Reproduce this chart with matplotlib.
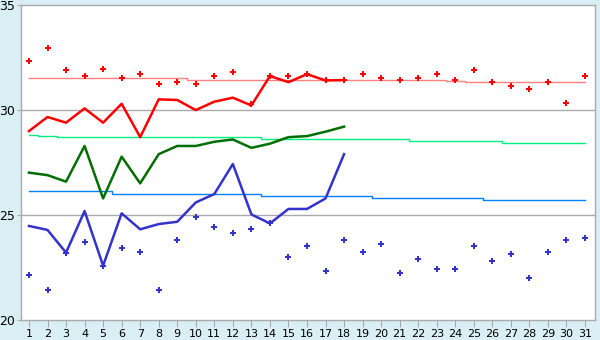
import numpy as np
import matplotlib.pyplot as plt

# ###############################################
days = list(range(1, 32))
days_obs = list(range(1, 19))

max_line = [29.0, 29.67, 29.4, 30.08, 29.4, 30.3, 28.71, 30.51, 30.48, 30.0,
            30.4, 30.59, 30.22, 31.62, 31.33, 31.71, 31.41, 31.43]
avg_line = [27.02, 26.9, 26.59, 28.29, 25.79, 27.78, 26.51, 27.9, 28.29, 28.29,
            28.49, 28.6, 28.2, 28.4, 28.71, 28.76, 28.97, 29.21]
min_line = [24.48, 24.29, 23.21, 25.19, 22.59, 25.08, 24.32, 24.57, 24.68, 25.6,
            26.0, 27.43, 25.03, 24.6, 25.29, 25.29, 25.79, 27.9]

max_dots = [32.32, 32.98, 31.89, 31.6, 31.98, 31.51, 31.7, 31.22, 31.32, 31.22,
            31.6, 31.79, 30.3, 31.62, 31.6, 31.71, 31.43, 31.43, 31.7, 31.51,
            31.41, 31.51, 31.7, 31.41, 31.89, 31.32, 31.13, 30.98, 31.32, 30.32, 31.6]
min_dots = [22.13, 21.41, 23.21, 23.7, 22.59, 23.41, 23.22, 21.41, 23.79, 24.89,
            24.41, 24.13, 24.32, 24.6, 22.98, 23.51, 22.32, 23.79, 23.22, 23.6,
            22.22, 22.89, 22.41, 22.41, 23.51, 22.79, 23.13, 21.98, 23.22, 23.79, 23.89]

norm_max = [31.51]*9 + [31.41]*14 + [31.37] + [31.32]*7
norm_avg = [28.79, 28.76] + [28.71]*11 + [28.62]*8 + [28.52]*5 + [28.42]*5
norm_min = [26.14]*5 + [25.99]*8 + [25.9]*6 + [25.8]*6 + [25.7]*6

y_ticks = [20, 25, 30, 35]
# ###############################################

bg = '#daeff5'
grid_c = '#aaaaaa'

fig = plt.figure(figsize=(6, 3.4), dpi=100, facecolor=bg)
ax = fig.add_axes([0.035, 0.0588, 0.9567, 0.9262])

for v in [25, 30]:
    ax.axhline(v, color=grid_c, lw=1.0, zorder=1)

# normal values (thin step lines)
ax.plot(days, norm_max, color='#ff8080', lw=1.0, drawstyle='steps-mid', zorder=2)
ax.plot(days, norm_avg, color='#00f080', lw=1.0, drawstyle='steps-mid', zorder=2)
ax.plot(days, norm_min, color='#0080ff', lw=1.0, drawstyle='steps-mid', zorder=2)

# observed
ax.plot(days_obs, max_line, color='#ff0000', lw=1.8, zorder=3)
ax.plot(days_obs, avg_line, color='#006e00', lw=1.8, zorder=3)
ax.plot(days_obs, min_line, color='#3333cc', lw=1.8, zorder=3)

# records
ax.plot(days, max_dots, ls='none', marker='P', ms=4.2, color='#ff0000', mew=0, zorder=4)
ax.plot(days, min_dots, ls='none', marker='P', ms=4.2, color='#3333cc', mew=0, zorder=4)

ax.set_xlim(0.57, 31.54)
ax.set_ylim(20, 35)
ax.set_xticks(days)
ax.set_yticks(y_ticks)
ax.tick_params(axis='x', length=5, color=grid_c, labelsize=8, pad=1.5)
ax.tick_params(axis='y', length=3, color=grid_c, labelsize=9, pad=1)
for s in ax.spines.values():
    s.set_color(grid_c)
    s.set_linewidth(1.0)

plt.savefig('out.png', dpi=100, facecolor=bg)
